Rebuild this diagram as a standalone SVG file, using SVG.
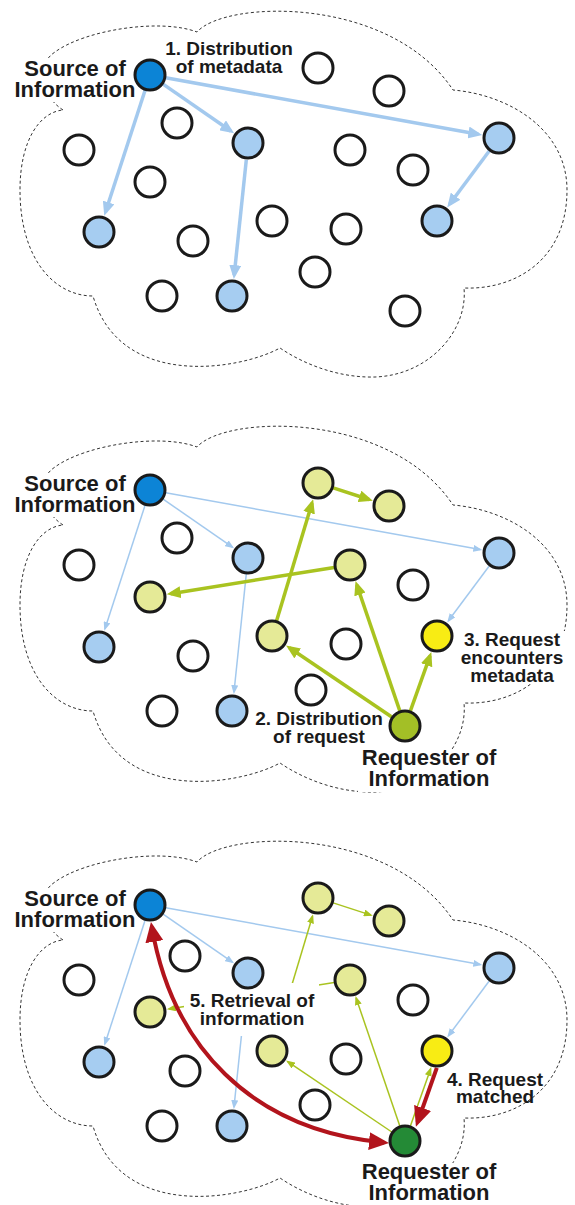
<svg xmlns="http://www.w3.org/2000/svg" xmlns:xlink="http://www.w3.org/1999/xlink" width="575" height="1205" viewBox="0 0 575 1205">
<style>
.cloud{fill:none;stroke:#333;stroke-width:1;stroke-dasharray:3 2.5}
.n{stroke:#1a1a1a;stroke-width:3}
.w{fill:#fff}.src{fill:#0c84d6}.lb{fill:#a6cdf1}.py{fill:#e5ea97}.yl{fill:#f8ec14}.ol{fill:#a3bf26}.dg{fill:#248a36}
.bt{stroke:#a3c9ee;stroke-width:3.5;fill:none;marker-end:url(#mBT)}
.bn{stroke:#a3c9ee;stroke-width:1.5;fill:none;marker-end:url(#mBN)}
.gt{stroke:#a9c320;stroke-width:3.5;fill:none;marker-end:url(#mGT)}
.gn{stroke:#a9c320;stroke-width:1.5;fill:none;marker-end:url(#mGN)}
.rd{stroke:#b2141c;stroke-width:4;fill:none;marker-end:url(#mR)}
.bg{fill:#fff}
.big{font-family:"Liberation Sans",Arial,sans-serif;font-weight:bold;font-size:22px;fill:#1a1a1a;text-anchor:middle}
.lbl{font-family:"Liberation Sans",Arial,sans-serif;font-weight:bold;font-size:19px;fill:#1a1a1a;text-anchor:middle}
</style>
<defs>
<path id="cloudPath" d="M63,110 C40,95 35,65 55,52 C85,30 160,18 197,32 C225,0 390,-5 453,90 C510,95 567,130 567,190 C567,260 515,290 464,288 C468,330 430,375 375,377 C340,378 305,365 280,348 C240,370 120,390 93,296 C55,296 20,260 20,190 C20,140 40,112 63,110 Z"/>
<marker id="mBT" markerUnits="userSpaceOnUse" markerWidth="14" markerHeight="12" refX="10" refY="6" orient="auto"><path d="M0,0 L14,6 L0,12 Z" fill="#a3c9ee"/></marker>
<marker id="mBN" markerUnits="userSpaceOnUse" markerWidth="9" markerHeight="7" refX="7" refY="3.5" orient="auto"><path d="M0,0 L9,3.5 L0,7 Z" fill="#a3c9ee"/></marker>
<marker id="mGT" markerUnits="userSpaceOnUse" markerWidth="14" markerHeight="12" refX="10" refY="6" orient="auto"><path d="M0,0 L14,6 L0,12 Z" fill="#a9c320"/></marker>
<marker id="mGN" markerUnits="userSpaceOnUse" markerWidth="9" markerHeight="7" refX="7" refY="3.5" orient="auto"><path d="M0,0 L9,3.5 L0,7 Z" fill="#a9c320"/></marker>
<marker id="mR" markerUnits="userSpaceOnUse" markerWidth="20" markerHeight="18" refX="15" refY="9" orient="auto-start-reverse"><path d="M0,0 L20,9 L0,18 Z" fill="#b2141c"/></marker>
</defs>
<rect width="575" height="1205" fill="#fff"/>

<g id="clouds">
<use xlink:href="#cloudPath" href="#cloudPath" class="cloud"/>
<use xlink:href="#cloudPath" href="#cloudPath" class="cloud" transform="translate(0,415)"/>
<use xlink:href="#cloudPath" href="#cloudPath" class="cloud" transform="translate(0,830)"/>
</g>

<g id="connectors">
<!-- panel 1 -->
<line class="bt" x1="163.1" y1="84.1" x2="230.8" y2="131"/>
<line class="bt" x1="165.7" y1="77.8" x2="478.3" y2="134.3"/>
<line class="bt" x1="145.1" y1="90.2" x2="105.5" y2="212"/>
<line class="bt" x1="246.3" y1="159.9" x2="234.2" y2="275.1"/>
<line class="bt" x1="489.4" y1="150.8" x2="449.6" y2="204.2"/>
<!-- panel 2 -->
<line class="bn" x1="163.1" y1="499.1" x2="232.4" y2="547.2"/>
<line class="bn" x1="165.7" y1="492.8" x2="480.3" y2="549.6"/>
<line class="bn" x1="145.1" y1="505.2" x2="104.9" y2="628.9"/>
<line class="bn" x1="246.3" y1="573.9" x2="234" y2="692.1"/>
<line class="bn" x1="489.4" y1="565.8" x2="448.4" y2="620.8"/>
<line class="gt" x1="410.4" y1="710.9" x2="430" y2="655.8"/>
<line class="gt" x1="399.8" y1="710.9" x2="356.8" y2="584.9"/>
<line class="gt" x1="391.8" y1="717" x2="289.4" y2="647.8"/>
<line class="gt" x1="276.6" y1="620.7" x2="312" y2="503.1"/>
<line class="gt" x1="333.2" y1="487.9" x2="369" y2="499.5"/>
<line class="gt" x1="334.2" y1="567.5" x2="170.7" y2="593.7"/>
<!-- panel 3 -->
<line class="bn" x1="163.1" y1="914.1" x2="232.4" y2="962.2"/>
<line class="bn" x1="165.7" y1="907.8" x2="480.3" y2="964.6"/>
<line class="bn" x1="145.1" y1="920.2" x2="104.9" y2="1043.9"/>
<line class="bn" x1="246.3" y1="988.9" x2="234" y2="1107.1"/>
<line class="bn" x1="489.4" y1="980.8" x2="448.4" y2="1035.8"/>
<line class="gn" x1="410.4" y1="1125.9" x2="430.6" y2="1068.9"/>
<line class="gn" x1="399.8" y1="1125.9" x2="356.1" y2="998"/>
<line class="gn" x1="391.8" y1="1132" x2="287.7" y2="1061.6"/>
<line class="gn" x1="276.6" y1="1035.7" x2="312.5" y2="916.2"/>
<line class="gn" x1="333.2" y1="902.9" x2="370.9" y2="915.1"/>
<line class="gn" x1="334.2" y1="982.5" x2="168.8" y2="1009"/>
</g>

<g id="label-backgrounds">
<rect class="bg" x="13" y="58" width="125" height="44"/>
<rect class="bg" x="13" y="473" width="125" height="44"/>
<rect class="bg" x="13" y="888" width="125" height="44"/>
<rect class="bg" x="358" y="749" width="142" height="43"/>
<rect class="bg" x="358" y="1163" width="142" height="42"/>
<rect class="bg" x="458" y="631" width="110" height="53"/>
<rect class="bg" x="184" y="983" width="135" height="53"/>
</g>

<g id="red-connectors">
<path class="rd" d="M151.8,926.9 C172,1045 250,1130 384,1142.5" style="marker-start:url(#mR)"/>
<line class="rd" x1="436.8" y1="1067.9" x2="417.6" y2="1122.1"/>
</g>

<!-- panel 1 nodes -->
<g id="p1-source"><circle class="n src" cx="150" cy="75" r="15"/></g>
<g id="p1-n1"><circle class="n w" cx="318" cy="68" r="15"/></g>
<g id="p1-n2"><circle class="n w" cx="389" cy="91" r="15"/></g>
<g id="p1-n3"><circle class="n w" cx="177" cy="123" r="15"/></g>
<g id="p1-n4"><circle class="n w" cx="79" cy="150" r="15"/></g>
<g id="p1-n5"><circle class="n w" cx="350" cy="150" r="15"/></g>
<g id="p1-n6"><circle class="n w" cx="413" cy="170" r="15"/></g>
<g id="p1-n7"><circle class="n w" cx="150" cy="182" r="15"/></g>
<g id="p1-n8"><circle class="n w" cx="272" cy="221" r="15"/></g>
<g id="p1-n9"><circle class="n w" cx="193" cy="241" r="15"/></g>
<g id="p1-n10"><circle class="n w" cx="346" cy="229" r="15"/></g>
<g id="p1-n11"><circle class="n w" cx="315" cy="272" r="15"/></g>
<g id="p1-n12"><circle class="n w" cx="162" cy="296" r="15"/></g>
<g id="p1-n13"><circle class="n w" cx="405" cy="311" r="15"/></g>
<g id="p1-b1"><circle class="n lb" cx="248" cy="143" r="15"/></g>
<g id="p1-b2"><circle class="n lb" cx="499" cy="138" r="15"/></g>
<g id="p1-b3"><circle class="n lb" cx="99" cy="232" r="15"/></g>
<g id="p1-b4"><circle class="n lb" cx="232" cy="296" r="15"/></g>
<g id="p1-b5"><circle class="n lb" cx="437" cy="221" r="15"/></g>

<!-- panel 2 nodes -->
<g id="p2-source"><circle class="n src" cx="150" cy="490" r="15"/></g>
<g id="p2-p1"><circle class="n py" cx="318" cy="483" r="15"/></g>
<g id="p2-p2"><circle class="n py" cx="389" cy="506" r="15"/></g>
<g id="p2-p3"><circle class="n py" cx="350" cy="565" r="15"/></g>
<g id="p2-p4"><circle class="n py" cx="150" cy="597" r="15"/></g>
<g id="p2-p5"><circle class="n py" cx="272" cy="636" r="15"/></g>
<g id="p2-n1"><circle class="n w" cx="177" cy="538" r="15"/></g>
<g id="p2-n2"><circle class="n w" cx="79" cy="565" r="15"/></g>
<g id="p2-n3"><circle class="n w" cx="413" cy="585" r="15"/></g>
<g id="p2-n4"><circle class="n w" cx="193" cy="656" r="15"/></g>
<g id="p2-n5"><circle class="n w" cx="346" cy="644" r="15"/></g>
<g id="p2-n6"><circle class="n w" cx="311" cy="690" r="15"/></g>
<g id="p2-n7"><circle class="n w" cx="162" cy="711" r="15"/></g>
<g id="p2-b1"><circle class="n lb" cx="248" cy="558" r="15"/></g>
<g id="p2-b2"><circle class="n lb" cx="499" cy="553" r="15"/></g>
<g id="p2-b3"><circle class="n lb" cx="99" cy="647" r="15"/></g>
<g id="p2-b4"><circle class="n lb" cx="232" cy="711" r="15"/></g>
<g id="p2-match"><circle class="n yl" cx="437" cy="636" r="15"/></g>
<g id="p2-requester"><circle class="n ol" cx="405" cy="726" r="15"/></g>

<!-- panel 3 nodes -->
<g id="p3-source"><circle class="n src" cx="150" cy="905" r="15"/></g>
<g id="p3-p1"><circle class="n py" cx="318" cy="898" r="15"/></g>
<g id="p3-p2"><circle class="n py" cx="389" cy="921" r="15"/></g>
<g id="p3-p3"><circle class="n py" cx="350" cy="980" r="15"/></g>
<g id="p3-p4"><circle class="n py" cx="150" cy="1012" r="15"/></g>
<g id="p3-p5"><circle class="n py" cx="272" cy="1051" r="15"/></g>
<g id="p3-n1"><circle class="n w" cx="185" cy="956" r="15"/></g>
<g id="p3-n2"><circle class="n w" cx="79" cy="980" r="15"/></g>
<g id="p3-n3"><circle class="n w" cx="413" cy="1000" r="15"/></g>
<g id="p3-n4"><circle class="n w" cx="185" cy="1071" r="15"/></g>
<g id="p3-n5"><circle class="n w" cx="346" cy="1059" r="15"/></g>
<g id="p3-n6"><circle class="n w" cx="315" cy="1105" r="15"/></g>
<g id="p3-n7"><circle class="n w" cx="162" cy="1126" r="15"/></g>
<g id="p3-b1"><circle class="n lb" cx="248" cy="973" r="15"/></g>
<g id="p3-b2"><circle class="n lb" cx="499" cy="968" r="15"/></g>
<g id="p3-b3"><circle class="n lb" cx="99" cy="1062" r="15"/></g>
<g id="p3-b4"><circle class="n lb" cx="232" cy="1126" r="15"/></g>
<g id="p3-match"><circle class="n yl" cx="437" cy="1051" r="15"/></g>
<g id="p3-requester"><circle class="n dg" cx="405" cy="1141" r="15"/></g>

<g id="labels">
<text class="big" x="75" y="76">Source of</text>
<text class="big" x="75" y="97">Information</text>
<text class="lbl" x="229" y="55">1. Distribution</text>
<text class="lbl" x="229" y="73">of metadata</text>

<text class="big" x="75" y="491">Source of</text>
<text class="big" x="75" y="512">Information</text>
<text class="lbl" x="319" y="725">2. Distribution</text>
<text class="lbl" x="319" y="743">of request</text>
<text class="lbl" x="512" y="646">3. Request</text>
<text class="lbl" x="512" y="664">encounters</text>
<text class="lbl" x="512" y="682">metadata</text>
<text class="big" x="429" y="765">Requester of</text>
<text class="big" x="429" y="786">Information</text>

<text class="big" x="75" y="906">Source of</text>
<text class="big" x="75" y="927">Information</text>
<text class="lbl" x="252" y="1007">5. Retrieval of</text>
<text class="lbl" x="252" y="1025">information</text>
<text class="lbl" x="495" y="1086">4. Request</text>
<text class="lbl" x="495" y="1103">matched</text>
<text class="big" x="429" y="1179">Requester of</text>
<text class="big" x="429" y="1200">Information</text>
</g>
</svg>
